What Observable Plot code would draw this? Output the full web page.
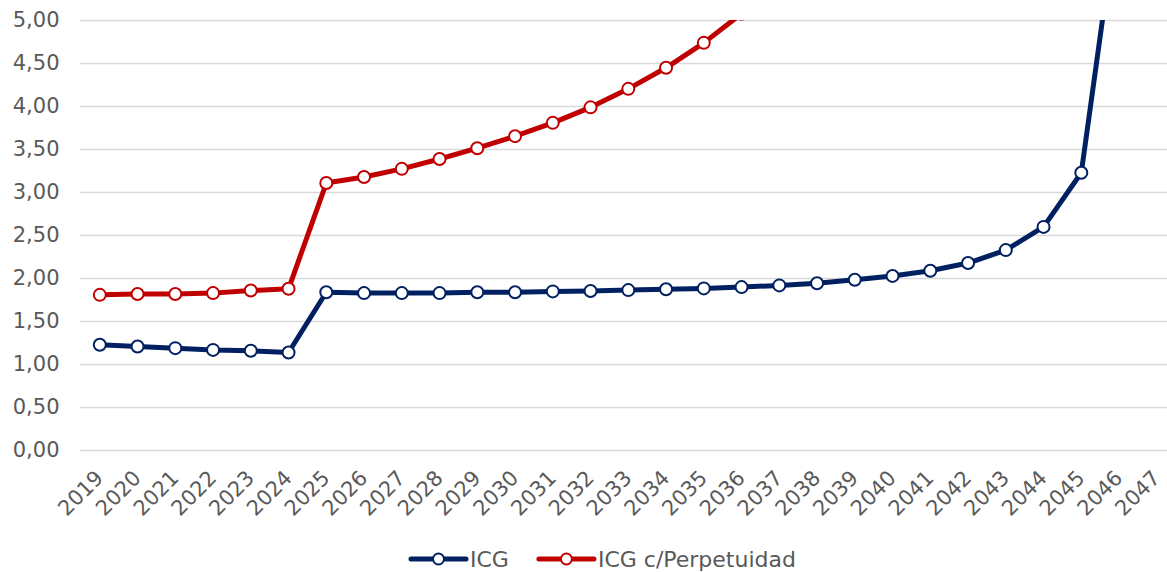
<!DOCTYPE html>
<html><head><meta charset="utf-8">
<script src="https://cdn.jsdelivr.net/npm/d3@7"></script>
<script src="https://cdn.jsdelivr.net/npm/@observablehq/plot@0.6"></script>
<style>
body{margin:0;background:#fff;font-family:"DejaVu Sans",Verdana,sans-serif;}
#chart svg{display:block;}
#legend svg{display:block;}
</style></head><body>
<div id="chart"></div>
<div id="legend"></div>
<script>
const years = ["2019","2020","2021","2022","2023","2024","2025","2026","2027","2028","2029","2030","2031","2032","2033","2034","2035","2036","2037","2038","2039","2040","2041","2042","2043","2044","2045","2046","2047"];
const icg = [1.23,1.21,1.19,1.17,1.16,1.14,1.84,1.83,1.83,1.83,1.84,1.84,1.85,1.855,1.865,1.875,1.885,1.90,1.92,1.945,1.985,2.03,2.09,2.18,2.33,2.60,3.23,6.40,null];
const icgPerp = [1.81,1.82,1.82,1.83,1.86,1.88,3.11,3.18,3.275,3.39,3.515,3.655,3.81,3.99,4.205,4.45,4.74,5.08,null,null,null,null,null,null,null,null,null,null,null];
const seriesNames = ["ICG","ICG c/Perpetuidad"];
const seriesColors = ["#002060","#C00000"];
const yTicks = [0,0.5,1,1.5,2,2.5,3,3.5,4,4.5,5];

const rows = [];
[icg, icgPerp].forEach((vals, s) => {
  vals.forEach((v, i) => { if (v != null) rows.push({year: years[i], value: v, serie: seriesNames[s]}); });
});

const lineMarks = [];
seriesNames.forEach((name, s) => {
  const d = rows.filter(r => r.serie === name);
  lineMarks.push(Plot.line(d, {x: "year", y: "value", stroke: seriesColors[s], strokeWidth: 5, clip: true}));
  lineMarks.push(Plot.dot(d, {x: "year", y: "value", r: 6, fill: "white", stroke: seriesColors[s], strokeWidth: 2, clip: true}));
});

const fmt = d => d.toFixed(2).replace(".", ",");

const chart = Plot.plot({
  width: 1167, height: 530,
  marginLeft: 80, marginRight: 0, marginTop: 20, marginBottom: 80,
  style: {fontFamily: '"DejaVu Sans", Verdana, sans-serif', background: "white"},
  x: {type: "point", domain: years, range: [99.3, 1156.3], padding: 0, round: false, label: null},
  y: {domain: [0, 5], label: null},
  marks: [
    Plot.gridY(yTicks, {stroke: "#d9d9d9", strokeOpacity: 1, strokeWidth: 1.4}),
    Plot.axisY(yTicks, {tickSize: 0, tickPadding: 21, tickFormat: fmt, fontSize: 21, fill: "#595959", label: null}),
    Plot.axisX(years, {tickSize: 0, tickPadding: 24, tickRotate: -45, fontSize: 21, fill: "#595959", tickFormat: d => d, label: null}),
    ...lineMarks
  ]
});
document.getElementById("chart").appendChild(chart);

// legend
const lsvg = d3.select("#legend").append("svg").attr("width", 1167).attr("height", 42);
let x0 = 411;
seriesNames.forEach((name, s) => {
  const g = lsvg.append("g");
  g.append("line").attr("x1", x0).attr("x2", x0 + 55).attr("y1", 29).attr("y2", 29)
    .attr("stroke", seriesColors[s]).attr("stroke-width", 5).attr("stroke-linecap", "round");
  g.append("circle").attr("cx", x0 + 27.5).attr("cy", 29).attr("r", 5.5)
    .attr("fill", "white").attr("stroke", seriesColors[s]).attr("stroke-width", 2);
  const t = g.append("text").attr("x", x0 + 59).attr("y", 29).attr("dy", "0.35em")
    .attr("font-size", 22).attr("fill", "#595959").text(name);
  x0 = x0 + 59 + t.node().getComputedTextLength() + 30;
});
</script>
</body></html>
